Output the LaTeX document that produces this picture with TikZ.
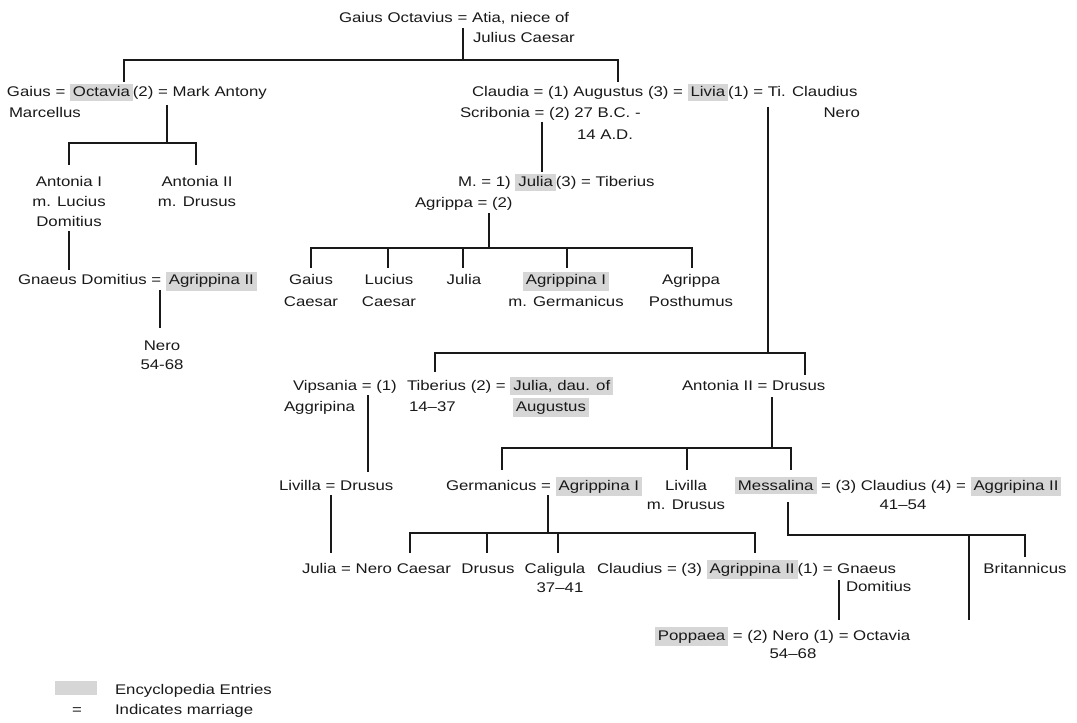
\documentclass[tikz,border=0pt]{standalone}
\usepackage{fontspec}
\setmainfont{Liberation Sans}[FakeStretch=1.2]
\definecolor{hlgray}{RGB}{214,214,214}
\definecolor{ink}{RGB}{25,25,25}
\newcommand\hl[1]{{\setlength\fboxsep{2.2pt}\colorbox{hlgray}{\rule[-0.8pt]{0pt}{7.6pt}#1}}}
\begin{document}
\begin{tikzpicture}[x=0.75pt,y=-0.75pt,
  every node/.style={inner sep=0pt,outer sep=0pt,text=ink,font=\fontsize{10.5}{12}\selectfont},
  lw/.style={anchor=base west}, lc/.style={anchor=base}, le/.style={anchor=base east},
  conn/.style={draw=ink,line width=1.4pt}]
\useasboundingbox (0,0) rectangle (1077,723);
\fill[white] (0,0) rectangle (1077,723);

% ---------- texts ----------
\node[lw] (gaiusoct) at (339,23) {Gaius Octavius = Atia, niece of};
\node[lw] (juliuscaesar) at (473,43) {Julius Caesar};
\node[lw] (octrow) at (7,97) {Gaius = \hl{Octavia}(2) = Mark Antony};
\node[lw] (marcellus) at (9,118) {Marcellus};
\node[lw] (augrow) at (472,97) {Claudia = (1) Augustus (3) = \hl{Livia}(1) = Ti. Claudius};
\node[lw] (scribrow) at (460,118) {Scribonia = (2) 27 B.C. -};
\node[le] (nero1) at (860,118) {Nero};
\node[lw] (augdates) at (577,140) {14 A.D.};
\node[lc] (antonia1a) at (69,187) {Antonia I};
\node[lc] (antonia1b) at (69,207) {m. Lucius};
\node[lc] (antonia1c) at (69,227) {Domitius};
\node[lc] (antonia2a) at (197,187) {Antonia II};
\node[lc] (antonia2b) at (197,207) {m. Drusus};
\node[lw] (juliarow) at (458,187) {M. = 1) \hl{Julia}(3) = Tiberius};
\node[lw] (agripparow) at (415,208) {Agrippa = (2)};
\node[lw] (gnaeusrow) at (18,285) {Gnaeus Domitius = \hl{Agrippina II}};
\node[lc] (neroa) at (162,350) {Nero};
\node[lc] (nerob) at (162,369) {54-68};
\node[lc] (gaiusa) at (311,285) {Gaius};
\node[lc] (gaiusb) at (311,306) {Caesar};
\node[lc] (luciusa) at (389,285) {Lucius};
\node[lc] (luciusb) at (389,306) {Caesar};
\node[lc] (julia2) at (464,285) {Julia};
\node[lc] (agrip1a) at (566,285) {\hl{Agrippina I}};
\node[lc] (agrip1b) at (566,306) {m. Germanicus};
\node[lc] (postha) at (691,285) {Agrippa};
\node[lc] (posthb) at (691,306) {Posthumus};
\node[lw] (vipsa) at (293,390) {Vipsania = (1)};
\node[lw] (vipsb) at (284,411) {Aggripina};
\node[lw] (tibrow) at (407,390) {Tiberius (2) = \hl{Julia, dau. of}};
\node[lw] (tibdates) at (409,411) {14–37};
\node[lw] (augustus2) at (513,411) {\hl{Augustus}};
\node[lw] (antdrusus) at (682,390) {Antonia II = Drusus};
\node[lw] (livdrusus) at (279,490) {Livilla = Drusus};
\node[lw] (germrow) at (446,490) {Germanicus = \hl{Agrippina I}};
\node[lc] (livillaa) at (686,490) {Livilla};
\node[lc] (livillab) at (686,509) {m. Drusus};
\node[lw] (messrow) at (735,490) {\hl{Messalina} = (3) Claudius (4) = \hl{Aggripina II}};
\node[lc] (claudates) at (903,509) {41–54};
\node[lw] (julianero) at (302,573) {Julia = Nero Caesar};
\node[lc] (drusus3) at (488,573) {Drusus};
\node[lc] (caliga) at (555,573) {Caligula};
\node[lc] (caligb) at (560,592) {37–41};
\node[lw] (claudrow) at (597,573) {Claudius = (3) \hl{Agrippina II}(1) = Gnaeus};
\node[lw] (domitius2) at (846,591) {Domitius};
\node[lc] (britannicus) at (1025,573) {Britannicus};
\node[lw] (poprow) at (655,640) {\hl{Poppaea} = (2) Nero (1) = Octavia};
\node[lc] (nerodates) at (793,658) {54–68};

% legend
\node[fill=hlgray,minimum width=31.5pt,minimum height=11pt] (swatch) at (76,688) {};
\node[lw] (legend1) at (115,694) {Encyclopedia Entries};
\node[lc] (legendeq) at (77,714) {=};
\node[lw] (legend2) at (115,714) {Indicates marriage};

% ---------- connector points ----------
\coordinate (topdown) at (463,28);
\coordinate (topbus) at (463,60);
\coordinate (toOctavia) at (124,82);
\coordinate (busOctL) at (124,60);
\coordinate (busAugR) at (618,60);
\coordinate (toAugustus) at (618,82);

\coordinate (octdown) at (167,105);
\coordinate (octbus) at (167,143);
\coordinate (toAnt1) at (69,165);
\coordinate (busAnt1) at (69,143);
\coordinate (busAnt2) at (196,143);
\coordinate (toAnt2) at (196,165);

\coordinate (domdown) at (69,231);
\coordinate (toGnaeus) at (69,270);
\coordinate (agr2down) at (160,290);
\coordinate (toNero1) at (160,328);

\coordinate (scribdown) at (542,122);
\coordinate (toJulia) at (542,172);

\coordinate (agrdown) at (489,213);
\coordinate (agrbus) at (489,248);
\coordinate (toGaius) at (311,268);
\coordinate (busGaius) at (311,248);
\coordinate (busLucius) at (388,248);
\coordinate (toLucius) at (388,268);
\coordinate (busJulia2) at (463,248);
\coordinate (toJulia2) at (463,268);
\coordinate (busAgr1) at (567,248);
\coordinate (toAgr1) at (567,268);
\coordinate (busPost) at (692,248);
\coordinate (toPost) at (692,268);

\coordinate (liviadown) at (768,107);
\coordinate (liviabus) at (768,353);
\coordinate (toTiberius) at (435,372);
\coordinate (busTiberius) at (435,353);
\coordinate (busAntDr) at (805,353);
\coordinate (toAntDr) at (805,375);

\coordinate (vipsdown) at (368,395);
\coordinate (toLivDr) at (368,472);

\coordinate (antdown) at (772,397);
\coordinate (antbus) at (772,448);
\coordinate (toGerm) at (502,470);
\coordinate (busGerm) at (502,448);
\coordinate (busLiv) at (687,448);
\coordinate (toLiv) at (687,470);
\coordinate (busMess) at (791,448);
\coordinate (toMess) at (791,470);

\coordinate (livdown) at (331,495);
\coordinate (toJuliaNero) at (331,553);

\coordinate (germdown) at (548,495);
\coordinate (germbus) at (548,533);
\coordinate (toNeroC) at (410,553);
\coordinate (busNeroC) at (410,533);
\coordinate (busDrusus) at (487,533);
\coordinate (toDrusus) at (487,553);
\coordinate (busCalig) at (558,533);
\coordinate (toCalig) at (558,553);
\coordinate (busAgr2) at (755,533);
\coordinate (toAgr2) at (755,553);

\coordinate (messdown) at (788,502);
\coordinate (messbus) at (788,535);
\coordinate (busOctavia) at (969,535);
\coordinate (octaviaend) at (969,620);
\coordinate (busBrit) at (1025,535);
\coordinate (toBrit) at (1025,557);

\coordinate (agr3down) at (839,580);
\coordinate (toNero2) at (839,620);

% ---------- connectors ----------
\draw[conn] (topdown) -- (topbus);
\draw[conn] (toOctavia) -- (busOctL) -- (busAugR) -- (toAugustus);

\draw[conn] (octdown) -- (octbus);
\draw[conn] (toAnt1) -- (busAnt1) -- (busAnt2) -- (toAnt2);
\draw[conn] (domdown) -- (toGnaeus);
\draw[conn] (agr2down) -- (toNero1);

\draw[conn] (scribdown) -- (toJulia);

\draw[conn] (agrdown) -- (agrbus);
\draw[conn] (toGaius) -- (busGaius) -- (busPost) -- (toPost);
\draw[conn] (busLucius) -- (toLucius);
\draw[conn] (busJulia2) -- (toJulia2);
\draw[conn] (busAgr1) -- (toAgr1);

\draw[conn] (liviadown) -- (liviabus);
\draw[conn] (toTiberius) -- (busTiberius) -- (busAntDr) -- (toAntDr);

\draw[conn] (vipsdown) -- (toLivDr);

\draw[conn] (antdown) -- (antbus);
\draw[conn] (toGerm) -- (busGerm) -- (busMess) -- (toMess);
\draw[conn] (busLiv) -- (toLiv);

\draw[conn] (livdown) -- (toJuliaNero);

\draw[conn] (germdown) -- (germbus);
\draw[conn] (toNeroC) -- (busNeroC) -- (busAgr2) -- (toAgr2);
\draw[conn] (busDrusus) -- (toDrusus);
\draw[conn] (busCalig) -- (toCalig);

\draw[conn] (messdown) -- (messbus) -- (busBrit) -- (toBrit);
\draw[conn] (busOctavia) -- (octaviaend);

\draw[conn] (agr3down) -- (toNero2);
\end{tikzpicture}
\end{document}
